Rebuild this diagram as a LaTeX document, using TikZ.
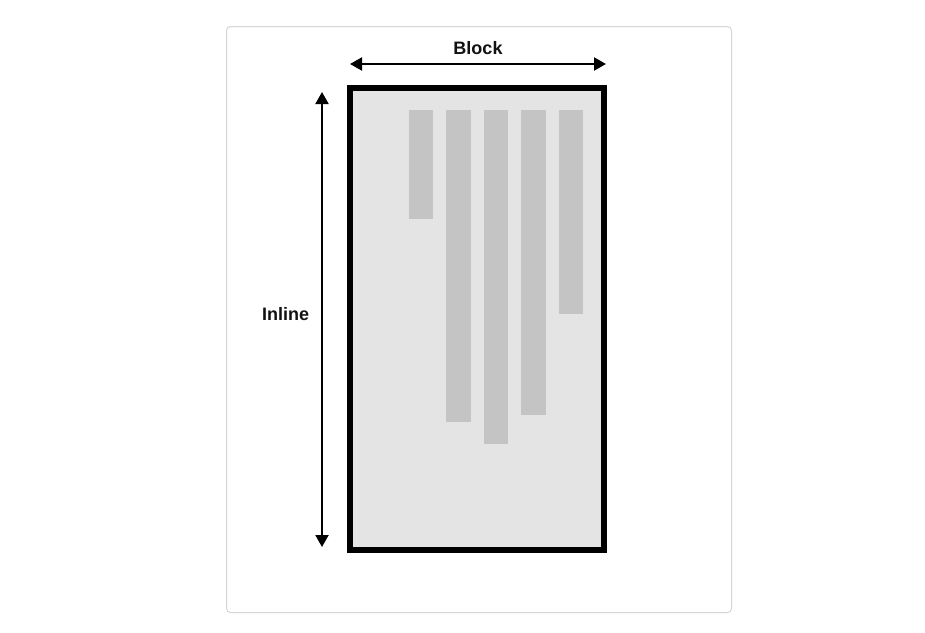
\documentclass[tikz,border=0pt]{standalone}
\usepackage{fontspec}
\setmainfont{Liberation Sans}
\usetikzlibrary{arrows.meta,positioning}
\definecolor{panelgris}{HTML}{E4E4E4}
\definecolor{barragris}{HTML}{C4C4C4}
\definecolor{bordetarjeta}{HTML}{D6D6D6}

\begin{document}
\begin{tikzpicture}[x=1pt, y=-1pt,
  tarjeta/.style={rectangle, draw=bordetarjeta, line width=1pt, rounded corners=4pt,
                  fill=white, inner sep=0pt, outer sep=0pt, anchor=north west},
  panel/.style={rectangle, draw=black, line width=6pt, fill=panelgris,
                inner sep=0pt, outer sep=0pt, anchor=north west},
  barra/.style={rectangle, fill=barragris, inner sep=0pt, outer sep=0pt,
                minimum width=24.5pt, anchor=north west},
  etiqueta/.style={font=\bfseries\fontsize{18}{20}\selectfont, text=black!93},
  flecha/.style={{Triangle[length=12pt, width=13pt]}-{Triangle[length=12pt, width=13pt]}, line width=2pt}
]
\fill[white] (0,0) rectangle (925,632);
\useasboundingbox (0,0) rectangle (925,632);

\node[tarjeta, minimum width=505pt, minimum height=586pt] (tarjeta) at (226.5,26.5) {};
\node[panel, minimum width=254pt, minimum height=462pt] (contenedor) at (350,88) {};

% barras que crecen en la direccion inline
\node[barra, minimum height=109pt] (barra1) at (408.5,109.5) {};
\node[barra, minimum height=312pt] (barra2) at (446,109.5) {};
\node[barra, minimum height=334pt] (barra3) at (483.5,109.5) {};
\node[barra, minimum height=305.5pt] (barra4) at (521,109.5) {};
\node[barra, minimum height=204pt] (barra5) at (558.5,109.5) {};

\coordinate (bloqueizq) at (350,64);
\coordinate (bloqueder) at (606,64);
\coordinate (inlinesup) at (322,92);
\coordinate (inlineinf) at (322,547);

\draw[flecha] (bloqueizq) -- (bloqueder);
\draw[flecha] (inlinesup) -- (inlineinf);

\node[etiqueta] (bloque) at (478,48) {Block};
\node[etiqueta] (inline) at (285.5,314) {Inline};
\end{tikzpicture}
\end{document}
